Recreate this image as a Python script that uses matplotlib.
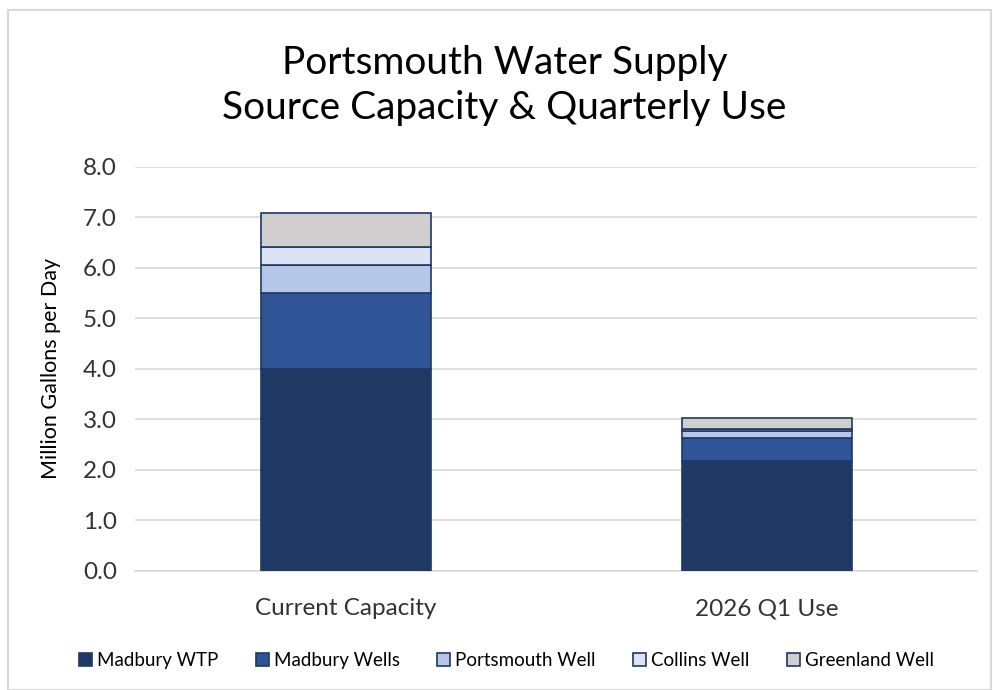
import matplotlib.pyplot as plt
import numpy as np
from matplotlib.patches import Rectangle

plt.rcParams['font.family'] = ['Lato', 'DejaVu Sans']

categories = ['Current Capacity', '2026 Q1 Use']
sources = ['Madbury WTP', 'Madbury Wells', 'Portsmouth Well', 'Collins Well', 'Greenland Well']
values = {
    'Madbury WTP': [4.0, 2.18],
    'Madbury Wells': [1.5, 0.45],
    'Portsmouth Well': [0.55, 0.13],
    'Collins Well': [0.36, 0.05],
    'Greenland Well': [0.67, 0.21],
}
colors = ['#1F3864', '#2F5597', '#B4C7E7', '#DAE3F3', '#D0CECE']

fig = plt.figure(figsize=(9.93, 6.9), dpi=100)
ax = fig.add_axes([0.136, 0.173, 0.848, 0.585])

x = np.arange(len(categories))
bottom = np.zeros(len(categories))
for name, c in zip(sources, colors):
    v = np.array(values[name])
    ax.bar(x, v, 0.404, bottom=bottom, color=c, edgecolor='#1F3864',
           linewidth=1.2, label=name, zorder=3)
    bottom += v

ax.set_xlim(-0.5, 1.5)
ax.set_ylim(0, 8)
ax.set_yticks(np.arange(0, 8.1, 1.0))
ax.set_yticklabels([f'{t:.1f}' for t in np.arange(0, 8.1, 1.0)])
ax.set_xticks(x)
ax.set_xticklabels(categories)
ax.tick_params(axis='both', length=0, labelsize=17.5, colors='#333333')
ax.tick_params(axis='y', pad=13)
ax.tick_params(axis='x', pad=20)
ax.grid(axis='y', color='#D9D9D9', linewidth=1.2, zorder=0)
for s in ['top', 'right', 'left']:
    ax.spines[s].set_visible(False)
ax.spines['bottom'].set_color('#D9D9D9')
ax.spines['bottom'].set_linewidth(1.2)
ax.set_ylabel('Million Gallons per Day', fontsize=15.5, color='black', labelpad=16)

fig.text(0.508, 0.876, 'Portsmouth Water Supply\nSource Capacity & Quarterly Use',
         ha='center', va='center', fontsize=28, linespacing=1.33)

ax.legend(loc='center', bbox_to_anchor=(0.51, 0.043), bbox_transform=fig.transFigure,
          ncol=5, frameon=False, fontsize=13.5, handlelength=0.7, handleheight=0.7,
          columnspacing=2.0, handletextpad=0.25)

fig.patches.append(Rectangle((0.008, 0.0), 0.99, 0.985, transform=fig.transFigure,
                             fill=False, edgecolor='#D9D9D9', linewidth=1.5))

fig.savefig('out.png', dpi=100)
